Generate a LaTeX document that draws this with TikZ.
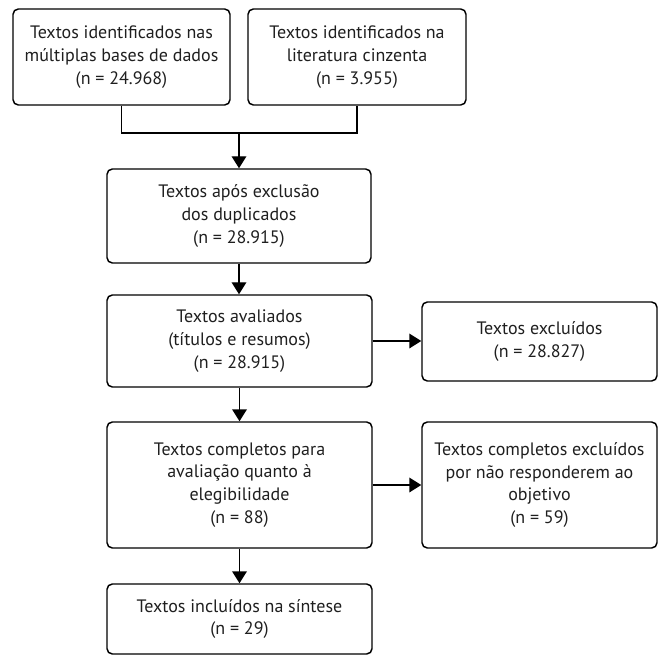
\documentclass[tikz,border=0pt]{standalone}
\usepackage{fontspec}
\setmainfont{PT Sans}
\usetikzlibrary{arrows.meta}
\begin{document}
\begin{tikzpicture}[x=0.75pt,y=-0.75pt,
  box/.style={draw, line width=1.1pt, rounded corners=4pt, align=center, inner sep=0pt,
    font=\fontsize{13.5}{17}\selectfont, text=black!88},
  conn/.style={line width=1.1pt},
  arr/.style={conn, -{Triangle[length=9pt,width=11pt]}}]
\useasboundingbox (0,0) rectangle (659,655);
\node[box, minimum width=162.75pt, minimum height=72pt] (A) at (121.5,57)
  {Textos identificados nas\\múltiplas bases de dados\\(n = 24.968)};
\node[box, minimum width=163.5pt, minimum height=72pt] (B) at (357,57)
  {Textos identificados na\\literatura cinzenta\\(n = 3.955)};
\node[box, minimum width=198pt, minimum height=70.5pt] (C) at (239,216)
  {Textos após exclusão\\dos duplicados\\(n = 28.915)};
\node[box, minimum width=198.75pt, minimum height=69pt] (D) at (239.5,341)
  {Textos avaliados\\(títulos e resumos)\\(n = 28.915)};
\node[box, minimum width=176.25pt, minimum height=59.25pt] (E) at (539.5,341.5)
  {Textos excluídos\\(n = 28.827)};
\node[box, minimum width=198.75pt, minimum height=94.5pt] (F) at (239.5,485)
  {Textos completos para\\avaliação quanto à\\elegibilidade\\(n = 88)};
\node[box, minimum width=176.25pt, minimum height=94.5pt] (G) at (539.5,485)
  {Textos completos excluídos\\por não responderem ao\\objetivo\\(n = 59)};
\node[box, minimum width=198.75pt, minimum height=52.5pt] (H) at (239.5,619)
  {Textos incluídos na síntese\\(n = 29)};
\coordinate (j) at (239,133);
\draw[conn] (A.south) |- (j) -| (B.south);
\draw[arr] (j) -- (C.north);
\draw[arr] (C.south) -- (C.south |- D.north);
\draw[arr] (D.east) -- (D.east -| E.west);
\draw[arr] (D.south) -- (D.south |- F.north);
\draw[arr] (F.east) -- (F.east -| G.west);
\draw[arr] (F.south) -- (F.south |- H.north);
\end{tikzpicture}
\end{document}
